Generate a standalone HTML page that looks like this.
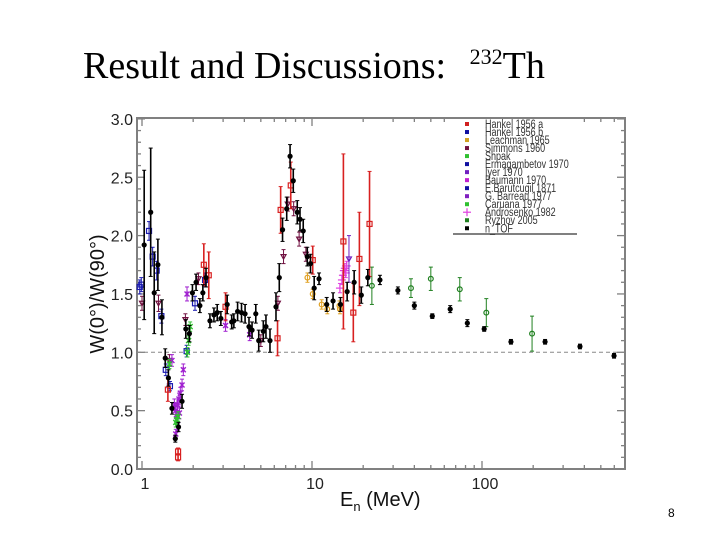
<!DOCTYPE html>
<html><head><meta charset="utf-8"><style>
html,body{margin:0;padding:0;background:#fff;}
body{width:720px;height:540px;position:relative;overflow:hidden;}
.title{position:absolute;left:83px;top:44px;font-family:"Liberation Serif",serif;font-size:38px;color:#000;white-space:nowrap;}
.title sup{font-size:22px;vertical-align:0;position:relative;top:-14px;margin-left:14px;}
svg{position:absolute;left:0;top:0;}
.pg{position:absolute;left:668px;top:506px;font-family:"Liberation Sans",sans-serif;font-size:12px;}
</style></head><body>
<div class="title">Result and Discussions: <sup>232</sup>Th</div>
<svg id="chart" width="720" height="540"></svg>
<div class="pg">8</div>
<script>
// ---- data arrays (E in MeV, value, error) ----
const ntofE=[1.03,1.125,1.18,1.24,1.31,1.37,1.43,1.50,1.57,1.64,1.72,1.81,1.90,1.98,2.08,2.19,2.28,2.38,2.51,2.65,2.77,2.91,3.17,3.37,3.47,3.65,3.85,4.04,4.26,4.44,4.67,4.86,5.17,5.36,5.66,6.14,6.42,6.71,7.1,7.43,7.76,8.19,8.5,8.88,9.38,9.8,10.3,11.0,12.2,13.3,14.7,16.1,17.7,19.5,21.3,25.1,32,40,51,65,82,103,148,235,377,598];
const ntofV=[1.92,2.20,1.51,1.75,1.30,0.95,0.78,0.52,0.26,0.36,0.58,1.20,1.16,1.51,1.60,1.40,1.51,1.64,1.27,1.32,1.34,1.29,1.41,1.26,1.27,1.35,1.34,1.33,1.22,1.19,1.33,1.10,1.18,1.22,1.10,1.39,1.64,2.05,2.23,2.68,2.47,2.20,2.14,2.04,1.82,1.76,1.55,1.63,1.41,1.44,1.41,1.52,1.60,1.49,1.64,1.62,1.53,1.40,1.31,1.37,1.25,1.20,1.09,1.09,1.05,0.97];
const ntofErr=[0.64,0.55,0.35,0.22,0.15,0.08,0.07,0.05,0.03,0.04,0.06,0.08,0.07,0.07,0.07,0.06,0.07,0.08,0.06,0.06,0.07,0.06,0.08,0.06,0.06,0.08,0.08,0.08,0.08,0.07,0.08,0.09,0.09,0.1,0.1,0.12,0.12,0.1,0.1,0.1,0.1,0.1,0.1,0.1,0.08,0.08,0.1,0.05,0.06,0.07,0.06,0.08,0.1,0.07,0.07,0.04,0.03,0.03,0.02,0.03,0.03,0.02,0.02,0.02,0.02,0.02];
const hankE=[1.42,1.63,1.63,2.31,2.47,3.1,6.27,6.54,7.5,10.1,15.3,17.5,19.0,21.8];
const hankV=[0.68,0.15,0.10,1.75,1.66,1.39,1.12,2.22,2.43,1.79,1.95,1.34,1.80,2.10];
const hankErr=[0.1,0.03,0.03,0.18,0.2,0.12,0.15,0.2,0.2,0.12,0.75,0.25,0.4,0.45];
const ermE=[0.97,0.99,1.10,1.155,1.22,1.30,1.38,1.46,1.83,2.05,2.35];
const ermV=[1.56,1.58,2.04,1.82,1.70,1.31,0.85,0.71,1.01,1.42,1.62];
const ermErr=[0.06,0.06,0.08,0.08,0.08,0.06,0.05,0.04,0.05,0.06,0.06];
const simE=[1.0,1.25,1.45,1.8,2.15,5.0,6.3,6.8,7.2,7.8,8.4,9.2];
const simV=[1.42,1.42,0.93,1.28,1.63,1.10,1.42,1.82,2.27,2.23,1.97,1.84];
const simErr=[0.06,0.07,0.05,0.05,0.05,0.05,0.06,0.06,0.06,0.06,0.06,0.06];
const baumE=[1.5,1.55,1.58,1.6,1.62,1.65,1.68,1.72,1.75,1.58,1.62,1.66,1.84,3.1,4.3];
const baumV=[0.93,0.55,0.5,0.45,0.38,0.6,0.65,0.72,0.85,0.3,0.55,0.48,1.5,1.23,1.15];
const baumErr=[0.05,0.05,0.05,0.05,0.05,0.05,0.05,0.05,0.05,0.04,0.05,0.05,0.06,0.05,0.05];
const carE=[1.45,1.58,1.6,1.63,1.85,1.88,1.92];
const carV=[0.9,0.4,0.42,0.45,1.0,1.1,1.22];
const leachE=[9.4,10.1,11.4,12.3,14.5,14.6];
const leachV=[1.64,1.50,1.41,1.37,1.40,1.37];
const andE=[14.6,15.0,15.2,15.4,15.6,15.8,16.0];
const andV=[1.55,1.62,1.66,1.70,1.72,1.68,1.74];
const iyerE=[16.5];
const iyerV=[1.8];
const ryzE=[22.5,38.2,50,74,106,197];
const ryzV=[1.57,1.55,1.63,1.54,1.34,1.16];
const ryzErr=[0.16,0.08,0.1,0.1,0.12,0.15];
const yTicks=["0.0","0.5","1.0","1.5","2.0","2.5","3.0"];
const xTicks=[1,10,100];
const legendNames=["Hankel 1956 a","Hankel 1956 b","Leachman 1965","Simmons 1960","Shpak","Ermagambetov 1970","Iyer 1970","Baumann 1970","E.Barutcugil 1871","G. Barreau 1977","Caruana 1977","Androsenko 1982","Ryzhov 2005","n_TOF"];
const legendColors=["#d02020","#1010a0","#d0a020","#701040","#30c030","#1010a0","#7020c0","#c020d0","#1010a0","#8020c0","#30c030","#e040e0","#208020","#000"];

// ---- axes ----
const L=137,R=625,T=118,B=469;
const X=e=>142+170*Math.log10(e);
const Y=v=>469-116.7*v;
const svg=document.getElementById('chart');
const NS='http://www.w3.org/2000/svg';
function mk(tag,at,parent){const el=document.createElementNS(NS,tag);for(const k in at)el.setAttribute(k,at[k]);(parent||svg).appendChild(el);return el;}
const ax=mk('g',{});


const frame=mk('rect',{x:L,y:T,width:R-L,height:B-T,fill:'none',stroke:'#808080','stroke-width':2},ax);


for(let i=0;i<=30;i++){const y=Y(i/10);const len=i%5==0?8:4;
 mk('line',{x1:L,x2:L+len,y1:y,y2:y,stroke:'#808080','stroke-width':1.3},ax);
 mk('line',{x1:R,x2:R-len,y1:y,y2:y,stroke:'#808080','stroke-width':1.3},ax);}
yTicks.forEach((t,i)=>{const tx=mk('text',{x:133,y:Y(i*0.5)+6,'text-anchor':'end','font-family':'Liberation Sans, sans-serif','font-size':16,fill:'#222'},ax);tx.textContent=t;
 
 });
for(let d=1;d<=100;d*=10){for(let m=1;m<=9;m++){const e=d*m;const x=X(e);if(x<L||x>R)continue;const len=m==1?8:4;
 mk('line',{x1:x,x2:x,y1:B,y2:B-len,stroke:'#808080','stroke-width':1.3},ax);
 mk('line',{x1:x,x2:x,y1:T,y2:T+len,stroke:'#808080','stroke-width':1.3},ax);}}
xTicks.forEach(t=>{const tx=mk('text',{x:X(t)+3,y:489,'text-anchor':'middle','font-family':'Liberation Sans, sans-serif','font-size':16,fill:'#222'},ax);tx.textContent=t;
 
 });
const dl=mk('line',{x1:L,x2:R,y1:Y(1),y2:Y(1),stroke:'#888','stroke-dasharray':'4,3','stroke-width':1});


const yt=mk('text',{x:0,y:0,transform:'translate(104,294) rotate(-90)','text-anchor':'middle','font-family':'Liberation Sans, sans-serif','font-size':20,fill:'#111'});
yt.textContent='W(0°)/W(90°)';


const xt=mk('text',{x:340,y:506,'font-family':'Liberation Sans, sans-serif','font-size':20,fill:'#111'});
xt.innerHTML='E<tspan font-size="13" dy="5">n</tspan><tspan dy="-5"> (MeV)</tspan>';



// ---- series ----
function marker(g,x,y,color,shape){
 if(shape=='fill') mk('circle',{cx:x,cy:y,r:2.6,fill:color},g);
 else if(shape=='sq') mk('rect',{x:x-2.5,y:y-2.5,width:5,height:5,fill:'none',stroke:color,'stroke-width':1.2},g);
 else if(shape=='circ') mk('circle',{cx:x,cy:y,r:2.4,fill:'none',stroke:color,'stroke-width':1.2},g);
 else if(shape=='tri') mk('path',{d:`M${x-2.5},${y-2} L${x+2.5},${y-2} L${x},${y+2.5}Z`,fill:'none',stroke:color,'stroke-width':1.2},g);
 else if(shape=='plus'){mk('line',{x1:x-4,x2:x+4,y1:y,y2:y,stroke:color,'stroke-width':1.2},g);mk('line',{x1:x,x2:x,y1:y-4,y2:y+4,stroke:color,'stroke-width':1.2},g);}
 else if(shape=='star') mk('path',{d:`M${x-2.5},${y-2.5}L${x+2.5},${y+2.5}M${x+2.5},${y-2.5}L${x-2.5},${y+2.5}M${x},${y-3}L${x},${y+3}`,stroke:color,'stroke-width':1.4},g);
}
function series(name,E,V,Er,color,shape,ew){
 const g=mk('g',{});
 
 
 E.forEach((e,i)=>{const x=X(e),y=Y(V[i]);const er=Er?Er[i]:0.04;
  if(er>0){mk('line',{x1:x,x2:x,y1:Y(V[i]+er),y2:Y(V[i]-er),stroke:color,'stroke-width':ew||1},g);
   mk('line',{x1:x-2,x2:x+2,y1:Y(V[i]+er),y2:Y(V[i]+er),stroke:color,'stroke-width':1},g);
   mk('line',{x1:x-2,x2:x+2,y1:Y(V[i]-er),y2:Y(V[i]-er),stroke:color,'stroke-width':1},g);}
  marker(g,x,y,color,shape);});
}
series('series-simmons',simE,simV,simErr,'#701040','tri');
series('series-ermagambetov',ermE,ermV,ermErr,'#1a1ab0','sq');
series('series-baumann',baumE,baumV,baumErr,'#a020d0','star');
series('series-caruana',carE,carV,null,'#30c030','star');
series('series-leachman',leachE,leachV,null,'#e0a020','circ');
series('series-androsenko',andE,andV,null,'#e040e0','plus');
series('series-iyer',iyerE,iyerV,[0.2],'#7020c0','tri');
series('series-ryzhov',ryzE,ryzV,ryzErr,'#208020','circ');
series('series-hankel',hankE,hankV,hankErr,'#d82020','sq',1.6);
series('series-ntof',ntofE,ntofV,ntofErr,'#000','fill',1.6);

// ---- legend ----
const lg=mk('g',{});


mk('rect',{x:455,y:119,width:122,height:114,fill:'#fff'},lg);
mk('line',{x1:453,x2:577,y1:234,y2:234,stroke:'#808080','stroke-width':2},lg);
legendNames.forEach((n,i)=>{const y=124+i*8.02;
 const sh=i==11?'plus':'sq';
 const g=mk('g',{},lg);
 
 
 if(sh=='plus') marker(g,467,y,legendColors[i],'plus'); else mk('rect',{x:465,y:y-2,width:4,height:4,fill:legendColors[i]},g);
 const t=mk('text',{x:0,y:0,transform:`translate(485,${y+4}) scale(0.82,1.05)`,'font-family':'Liberation Sans, sans-serif','font-size':11,fill:'#333'},g);
 t.textContent=n;});
</script>
</body></html>
